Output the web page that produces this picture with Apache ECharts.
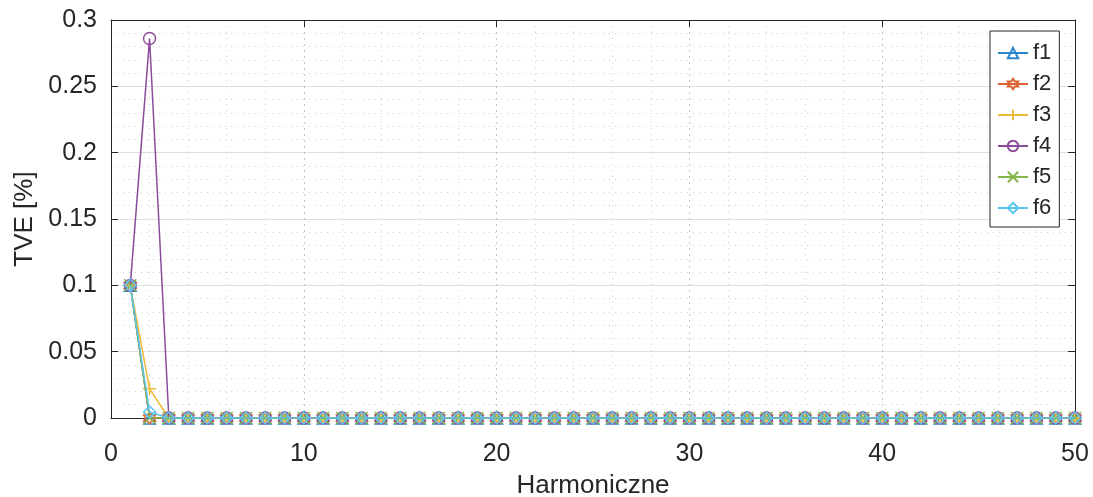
<!DOCTYPE html>
<html>
<head>
<meta charset="utf-8">
<script src="https://cdn.jsdelivr.net/npm/echarts@6/dist/echarts.min.js"></script>
<style>
  html, body { margin: 0; padding: 0; background: #fff; }
  #chart { width: 1093px; height: 497px; }
</style>
</head>
<body>
<div id="chart"></div>
<script>
// Harmonic orders 1..50
const harmonics = Array.from({ length: 50 }, (_, i) => i + 1);

// TVE [%] per harmonic order; only the first two orders are non-zero
const zeros48 = new Array(48).fill(0);
const f1 = [0.1, 0].concat(zeros48);
const f2 = [0.1, 0].concat(zeros48);
const f3 = [0.1, 0.022].concat(zeros48);
const f4 = [0.1, 0.286].concat(zeros48);
const f5 = [0.1, 0].concat(zeros48);
const f6 = [0.1, 0.0045].concat(zeros48);

const seriesNames = ['f1', 'f2', 'f3', 'f4', 'f5', 'f6'];
const seriesValues = [f1, f2, f3, f4, f5, f6];
const seriesColors = ['#2a86c8', '#dc6430', '#eeb935', '#8c4a9b', '#85b548', '#5cc4ef'];

const HEXAGRAM = 'path://M5,0L6.443,2.5L9.33,2.5L7.887,5L9.33,7.5L6.443,7.5L5,10L3.557,7.5L0.67,7.5L2.113,5L0.67,2.5L3.557,2.5Z';
const PLUS = 'path://M5,0L5,10M0,5L10,5';
const CROSS = 'path://M0,0L10,10M10,0L0,10';
const seriesSymbols = ['triangle', HEXAGRAM, PLUS, 'circle', CROSS, 'diamond'];
const seriesSymbolSizes = [12, 12, 13, 12, 12, 12];

const axisColor = '#262626';
const font = 'Liberation Sans, Arial, Helvetica, sans-serif';

const chart = echarts.init(document.getElementById('chart'), null, { renderer: 'canvas' });

const series = seriesNames.map((name, i) => ({
  name: name,
  type: 'line',
  data: harmonics.map((h, j) => [h, seriesValues[i][j]]),
  symbol: seriesSymbols[i],
  symbolSize: seriesSymbolSizes[i],
  showAllSymbol: true,
  lineStyle: { color: seriesColors[i], width: 1.5 },
  itemStyle: { color: 'none', borderColor: seriesColors[i], borderWidth: 1.4 },
  emphasis: { disabled: true },
  animation: false,
  z: 3 + i
}));

const tickInside = { show: true, inside: true, length: 7, lineStyle: { color: axisColor, width: 1 } };

chart.setOption({
  backgroundColor: '#ffffff',
  animation: false,
  grid: { left: 111, right: 18, top: 20, bottom: 79, containLabel: false, outerBoundsMode: 'none' },
  legend: {
    orient: 'vertical',
    left: 990,
    top: 31,
    data: seriesNames,
    itemWidth: 30,
    itemHeight: 13,
    itemGap: 9,
    padding: [11, 8, 8, 7],
    backgroundColor: '#ffffff',
    borderColor: axisColor,
    borderWidth: 1,
    borderRadius: 0,
    selectedMode: false,
    textStyle: { fontFamily: font, fontSize: 22, color: axisColor, lineHeight: 22 }
  },
  xAxis: [
    {
      type: 'value',
      min: 0, max: 50, interval: 10,
      name: 'Harmoniczne',
      nameLocation: 'middle',
      nameGap: 55,
      nameTextStyle: { fontFamily: font, fontSize: 26, color: axisColor },
      axisLine: { show: true, onZero: false, lineStyle: { color: axisColor, width: 1 } },
      axisTick: tickInside,
      axisLabel: { fontFamily: font, fontSize: 25, color: axisColor, margin: 24 },
      splitLine: { show: true, lineStyle: { color: '#c4c4c4', type: [2, 4], width: 1 } },
      minorTick: { show: false, splitNumber: 5 },
      minorSplitLine: { show: true, lineStyle: { color: '#cfcfcf', type: [1, 5], width: 1 } }
    },
    {
      type: 'value', position: 'top',
      min: 0, max: 50, interval: 10,
      axisLine: { show: true, onZero: false, lineStyle: { color: axisColor, width: 1 } },
      axisTick: tickInside,
      axisLabel: { show: false },
      splitLine: { show: false }
    }
  ],
  yAxis: [
    {
      type: 'value',
      min: 0, max: 0.3, interval: 0.05,
      name: 'TVE [%]',
      nameLocation: 'middle',
      nameGap: 72,
      nameTextStyle: { fontFamily: font, fontSize: 26, color: axisColor },
      axisLine: { show: true, onZero: false, lineStyle: { color: axisColor, width: 1 } },
      axisTick: tickInside,
      axisLabel: { fontFamily: font, fontSize: 25, color: axisColor, margin: 14 },
      splitLine: { show: true, lineStyle: { color: '#dedede', width: 1 } },
      minorTick: { show: false, splitNumber: 5 },
      minorSplitLine: { show: true, lineStyle: { color: '#cfcfcf', type: [1, 5], width: 1 } }
    },
    {
      type: 'value', position: 'right',
      min: 0, max: 0.3, interval: 0.05,
      axisLine: { show: true, onZero: false, lineStyle: { color: axisColor, width: 1 } },
      axisTick: tickInside,
      axisLabel: { show: false },
      splitLine: { show: false }
    }
  ],
  series: series
});
</script>
</body>
</html>
